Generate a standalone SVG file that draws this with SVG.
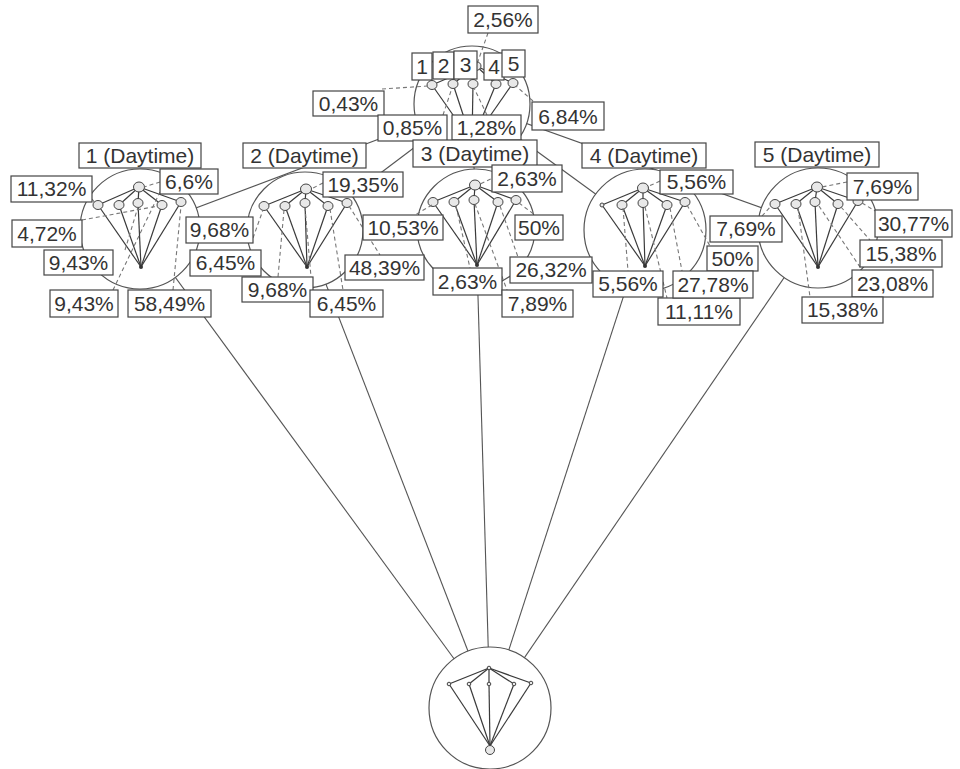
<svg xmlns="http://www.w3.org/2000/svg" width="960" height="769" viewBox="0 0 960 769">
  <style>
    .edge { stroke: #555; stroke-width: 1.1; fill: none; }
    .ring { fill: #fff; stroke: #555; stroke-width: 1.2; }
    .arm { stroke: #3a3a3a; stroke-width: 1.2; fill: none; }
    .dot { stroke: #444; stroke-width: 1; fill: #e8e8e8; }
    .pin { fill: #333; }
    .lead { stroke: #777; stroke-width: 1.1; stroke-dasharray: 4 3; fill: none; }
    .box { fill: #fff; stroke: #444; stroke-width: 1.2; }
    .lbl { font-family: "Liberation Sans", Arial, sans-serif; font-size: 21px; fill: #333; text-anchor: middle; }
  </style>
  <rect width="960" height="769" fill="#fff"/>

  <!-- links from the hub and the root to every Daytime node (centre to centre, hidden under the rings) -->
  <g id="connectors">
    <line class="edge" x1="472" y1="104" x2="140" y2="229"/>
    <line class="edge" x1="472" y1="104" x2="305" y2="230"/>
    <line class="edge" x1="472" y1="104" x2="476" y2="228"/>
    <line class="edge" x1="472" y1="104" x2="645" y2="230"/>
    <line class="edge" x1="472" y1="104" x2="818" y2="228"/>
    <line class="edge" x1="490" y1="708" x2="140" y2="229"/>
    <line class="edge" x1="490" y1="708" x2="305" y2="230"/>
    <line class="edge" x1="490" y1="708" x2="476" y2="228"/>
    <line class="edge" x1="490" y1="708" x2="645" y2="230"/>
    <line class="edge" x1="490" y1="708" x2="818" y2="228"/>
  </g>

  <!-- hub node -->
  <g id="node-hub">
    <circle class="ring" cx="472" cy="104" r="58"/>
    <g class="arm">
      <line x1="476" y1="66" x2="432" y2="85"/><line x1="476" y1="66" x2="453" y2="84"/>
      <line x1="476" y1="66" x2="473" y2="84"/><line x1="476" y1="66" x2="496" y2="84"/>
      <line x1="476" y1="66" x2="513" y2="83"/>
      <line x1="432" y1="85" x2="472" y2="142"/><line x1="453" y1="84" x2="472" y2="142"/>
      <line x1="473" y1="84" x2="472" y2="142"/><line x1="496" y1="84" x2="472" y2="142"/>
      <line x1="513" y1="83" x2="472" y2="142"/>
    </g>
    <ellipse class="dot" cx="476" cy="66" rx="5" ry="4.5"/>
    <ellipse class="dot" cx="432" cy="85" rx="5" ry="4.5"/>
    <ellipse class="dot" cx="453" cy="84" rx="5" ry="4.5"/>
    <ellipse class="dot" cx="473" cy="84" rx="5" ry="4.5"/>
    <ellipse class="dot" cx="496" cy="84" rx="5" ry="4.5"/>
    <ellipse class="dot" cx="513" cy="83" rx="5" ry="4.5" fill="#6a6a6a"/>
  </g>

  <!-- Daytime node 1 -->
  <g id="node-1">
    <circle class="ring" cx="140" cy="229" r="60"/>
    <g class="arm">
      <line x1="139" y1="187" x2="98" y2="205"/><line x1="139" y1="187" x2="119" y2="205"/>
      <line x1="139" y1="187" x2="138" y2="203"/><line x1="139" y1="187" x2="162" y2="205"/>
      <line x1="139" y1="187" x2="181" y2="202"/>
      <line x1="98" y1="205" x2="141" y2="267"/><line x1="119" y1="205" x2="141" y2="267"/>
      <line x1="138" y1="203" x2="141" y2="267"/><line x1="162" y1="205" x2="141" y2="267"/>
      <line x1="181" y1="202" x2="141" y2="267"/>
    </g>
    <ellipse class="dot" cx="139" cy="187" rx="5.5" ry="5" fill="#777"/>
    <ellipse class="dot" cx="98" cy="205" rx="5" ry="4.5"/>
    <ellipse class="dot" cx="119" cy="205" rx="5" ry="4.5"/>
    <ellipse class="dot" cx="138" cy="203" rx="5" ry="4.5"/>
    <ellipse class="dot" cx="162" cy="205" rx="5" ry="4.5"/>
    <ellipse class="dot" cx="181" cy="202" rx="5" ry="4.5" fill="#9a9a9a"/>
    <circle class="pin" cx="141" cy="267" r="2"/>
  </g>

  <!-- Daytime node 2 -->
  <g id="node-2">
    <circle class="ring" cx="305" cy="230" r="58"/>
    <g class="arm">
      <line x1="306" y1="189" x2="264" y2="206"/><line x1="306" y1="189" x2="285" y2="206"/>
      <line x1="306" y1="189" x2="305" y2="203"/><line x1="306" y1="189" x2="328" y2="206"/>
      <line x1="306" y1="189" x2="347" y2="203"/>
      <line x1="264" y1="206" x2="307" y2="267"/><line x1="285" y1="206" x2="307" y2="267"/>
      <line x1="305" y1="203" x2="307" y2="267"/><line x1="328" y1="206" x2="307" y2="267"/>
      <line x1="347" y1="203" x2="307" y2="267"/>
    </g>
    <ellipse class="dot" cx="306" cy="189" rx="5.5" ry="5" fill="#c8c8c8"/>
    <ellipse class="dot" cx="264" cy="206" rx="5" ry="4.5"/>
    <ellipse class="dot" cx="285" cy="206" rx="5" ry="4.5"/>
    <ellipse class="dot" cx="305" cy="203" rx="5" ry="4.5"/>
    <ellipse class="dot" cx="328" cy="206" rx="5" ry="4.5"/>
    <ellipse class="dot" cx="347" cy="203" rx="5" ry="4.5" fill="#bdbdbd"/>
    <circle class="pin" cx="307" cy="267" r="2"/>
  </g>

  <!-- Daytime node 3 -->
  <g id="node-3">
    <circle class="ring" cx="476" cy="228" r="59"/>
    <g class="arm">
      <line x1="475" y1="185" x2="433" y2="202"/><line x1="475" y1="185" x2="454" y2="202"/>
      <line x1="475" y1="185" x2="474" y2="200"/><line x1="475" y1="185" x2="498" y2="202"/>
      <line x1="475" y1="185" x2="516" y2="200"/>
      <line x1="433" y1="202" x2="477" y2="265"/><line x1="454" y1="202" x2="477" y2="265"/>
      <line x1="474" y1="200" x2="477" y2="265"/><line x1="498" y1="202" x2="477" y2="265"/>
      <line x1="516" y1="200" x2="477" y2="265"/>
    </g>
    <ellipse class="dot" cx="475" cy="185" rx="5.5" ry="5" fill="#b0b0b0"/>
    <ellipse class="dot" cx="433" cy="202" rx="5" ry="4.5"/>
    <ellipse class="dot" cx="454" cy="202" rx="5" ry="4.5"/>
    <ellipse class="dot" cx="474" cy="200" rx="5" ry="4.5"/>
    <ellipse class="dot" cx="498" cy="202" rx="5" ry="4.5"/>
    <ellipse class="dot" cx="516" cy="200" rx="5" ry="4.5" fill="#bdbdbd"/>
    <circle class="pin" cx="477" cy="265" r="2"/>
  </g>

  <!-- Daytime node 4 -->
  <g id="node-4">
    <circle class="ring" cx="645" cy="230" r="61"/>
    <g class="arm">
      <line x1="643" y1="188" x2="602" y2="205"/><line x1="643" y1="188" x2="622" y2="205"/>
      <line x1="643" y1="188" x2="643" y2="203"/><line x1="643" y1="188" x2="667" y2="205"/>
      <line x1="643" y1="188" x2="685" y2="202"/>
      <line x1="602" y1="205" x2="645" y2="266"/><line x1="622" y1="205" x2="645" y2="266"/>
      <line x1="643" y1="203" x2="645" y2="266"/><line x1="667" y1="205" x2="645" y2="266"/>
      <line x1="685" y1="202" x2="645" y2="266"/>
    </g>
    <ellipse class="dot" cx="643" cy="188" rx="5.5" ry="5" fill="#d8d8d8"/>
    <circle class="dot" cx="602" cy="205" r="2"/>
    <ellipse class="dot" cx="622" cy="205" rx="5" ry="4.5"/>
    <ellipse class="dot" cx="643" cy="203" rx="5" ry="4.5"/>
    <ellipse class="dot" cx="667" cy="205" rx="5" ry="4.5"/>
    <ellipse class="dot" cx="685" cy="202" rx="5" ry="4.5"/>
    <circle class="pin" cx="645" cy="266" r="2"/>
  </g>

  <!-- Daytime node 5 -->
  <g id="node-5">
    <circle class="ring" cx="818" cy="228" r="60"/>
    <g class="arm">
      <line x1="817" y1="187" x2="775" y2="204"/><line x1="817" y1="187" x2="796" y2="204"/>
      <line x1="817" y1="187" x2="815" y2="202"/><line x1="817" y1="187" x2="838" y2="204"/>
      <line x1="817" y1="187" x2="858" y2="201"/>
      <line x1="775" y1="204" x2="818" y2="267"/><line x1="796" y1="204" x2="818" y2="267"/>
      <line x1="815" y1="202" x2="818" y2="267"/><line x1="838" y1="204" x2="818" y2="267"/>
      <line x1="858" y1="201" x2="818" y2="267"/>
    </g>
    <ellipse class="dot" cx="817" cy="187" rx="5.5" ry="5"/>
    <ellipse class="dot" cx="775" cy="204" rx="5" ry="4.5"/>
    <ellipse class="dot" cx="796" cy="204" rx="5" ry="4.5"/>
    <ellipse class="dot" cx="815" cy="202" rx="5" ry="4.5"/>
    <ellipse class="dot" cx="838" cy="204" rx="5" ry="4.5"/>
    <ellipse class="dot" cx="858" cy="201" rx="5" ry="4.5"/>
    <circle class="pin" cx="818" cy="267" r="2"/>
  </g>

  <!-- root node -->
  <g id="node-root">
    <circle class="ring" cx="490" cy="708" r="61"/>
    <g class="arm">
      <line x1="489" y1="668" x2="449" y2="684"/><line x1="489" y1="668" x2="469" y2="684"/>
      <line x1="489" y1="668" x2="489" y2="684"/><line x1="489" y1="668" x2="514" y2="684"/>
      <line x1="489" y1="668" x2="531" y2="683"/>
      <line x1="449" y1="684" x2="490" y2="746"/><line x1="469" y1="684" x2="490" y2="746"/>
      <line x1="489" y1="684" x2="490" y2="746"/><line x1="514" y1="684" x2="490" y2="746"/>
      <line x1="531" y1="683" x2="490" y2="746"/>
    </g>
    <circle class="dot" cx="489" cy="668" r="1.8" fill="#fff"/>
    <circle class="dot" cx="449" cy="684" r="1.8" fill="#fff"/>
    <circle class="dot" cx="469" cy="684" r="1.8" fill="#fff"/>
    <circle class="dot" cx="489" cy="684" r="1.8" fill="#fff"/>
    <circle class="dot" cx="514" cy="684" r="1.8" fill="#fff"/>
    <circle class="dot" cx="531" cy="683" r="1.8" fill="#fff"/>
    <circle class="dot" cx="490" cy="750" r="4.5" fill="#fff"/>
  </g>

  <!-- hub labels -->
  <g id="labels-hub">
    <line class="lead" x1="488" y1="33" x2="477" y2="64"/>
    <line class="lead" x1="382" y1="89" x2="428" y2="86"/>
    <line class="lead" x1="443" y1="115" x2="452" y2="88"/>
    <line class="lead" x1="487" y1="115" x2="474" y2="88"/>
    <line class="lead" x1="533" y1="101" x2="516" y2="86"/>
    <rect class="box" x="468" y="6" width="70" height="27"/><text class="lbl" x="503" y="27">2,56%</text>
    <rect class="box" x="412" y="53" width="20" height="27"/><text class="lbl" x="422" y="74">1</text>
    <rect class="box" x="433" y="52" width="21" height="27"/><text class="lbl" x="443.5" y="73">2</text>
    <rect class="box" x="454" y="51" width="23" height="28"/><text class="lbl" x="465.5" y="72">3</text>
    <rect class="box" x="484" y="53" width="20" height="27"/><text class="lbl" x="494" y="74">4</text>
    <rect class="box" x="502" y="50" width="23" height="27"/><text class="lbl" x="513.5" y="71">5</text>
    <rect class="box" x="313" y="91" width="71" height="25"/><text class="lbl" x="348.5" y="111">0,43%</text>
    <rect class="box" x="378" y="115" width="69" height="26"/><text class="lbl" x="412.5" y="135">0,85%</text>
    <rect class="box" x="452" y="115" width="69" height="25"/><text class="lbl" x="486.5" y="135">1,28%</text>
    <rect class="box" x="532" y="102" width="72" height="28"/><text class="lbl" x="568" y="124">6,84%</text>
  </g>

  <!-- node 1 labels -->
  <g id="labels-1">
    <line class="lead" x1="160" y1="182" x2="144" y2="187"/>
    <line class="lead" x1="92" y1="199" x2="95" y2="203"/>
    <line class="lead" x1="82" y1="220" x2="158" y2="206"/>
    <line class="lead" x1="125" y1="250" x2="138" y2="207"/>
    <line class="lead" x1="113" y1="290" x2="160" y2="192"/>
    <line class="lead" x1="173" y1="290" x2="181" y2="206"/>
    <rect class="box" x="79" y="143" width="122" height="25"/><text class="lbl" x="140" y="163">1 (Daytime)</text>
    <rect class="box" x="11" y="176" width="81" height="26"/><text class="lbl" x="51.5" y="196">11,32%</text>
    <rect class="box" x="160" y="169" width="58" height="25"/><text class="lbl" x="189" y="189">6,6%</text>
    <rect class="box" x="12" y="220" width="70" height="27"/><text class="lbl" x="47" y="241">4,72%</text>
    <rect class="box" x="44" y="250" width="69" height="25"/><text class="lbl" x="78.5" y="270">9,43%</text>
    <rect class="box" x="50" y="290" width="68" height="27"/><text class="lbl" x="84" y="311">9,43%</text>
    <rect class="box" x="128" y="290" width="83" height="27"/><text class="lbl" x="169.5" y="311">58,49%</text>
  </g>

  <!-- node 2 labels -->
  <g id="labels-2">
    <line class="lead" x1="323" y1="183" x2="311" y2="189"/>
    <line class="lead" x1="253" y1="238" x2="263" y2="210"/>
    <line class="lead" x1="284" y1="210" x2="278" y2="277"/>
    <line class="lead" x1="305" y1="207" x2="311" y2="277"/>
    <line class="lead" x1="330" y1="209" x2="343" y2="290"/>
    <line class="lead" x1="349" y1="206" x2="380" y2="255"/>
    <rect class="box" x="243" y="143" width="123" height="25"/><text class="lbl" x="304.5" y="163">2 (Daytime)</text>
    <rect class="box" x="323" y="172" width="80" height="25"/><text class="lbl" x="363" y="192">19,35%</text>
    <rect class="box" x="186" y="217" width="67" height="26"/><text class="lbl" x="219.5" y="237">9,68%</text>
    <rect class="box" x="190" y="250" width="71" height="26"/><text class="lbl" x="225.5" y="270">6,45%</text>
    <rect class="box" x="242" y="277" width="71" height="25"/><text class="lbl" x="277.5" y="297">9,68%</text>
    <rect class="box" x="310" y="290" width="73" height="27"/><text class="lbl" x="346.5" y="311">6,45%</text>
    <rect class="box" x="345" y="255" width="79" height="25"/><text class="lbl" x="384.5" y="275">48,39%</text>
  </g>

  <!-- node 3 labels -->
  <g id="labels-3">
    <line class="lead" x1="497" y1="176" x2="480" y2="184"/>
    <line class="lead" x1="432" y1="205" x2="415" y2="215"/>
    <line class="lead" x1="456" y1="206" x2="470" y2="268"/>
    <line class="lead" x1="475" y1="204" x2="507" y2="290"/>
    <line class="lead" x1="519" y1="203" x2="535" y2="215"/>
    <line class="lead" x1="500" y1="206" x2="518" y2="257"/>
    <rect class="box" x="413" y="140" width="124" height="27"/><text class="lbl" x="475" y="161">3 (Daytime)</text>
    <rect class="box" x="492" y="165" width="70" height="27"/><text class="lbl" x="527" y="186">2,63%</text>
    <rect class="box" x="363" y="215" width="80" height="25"/><text class="lbl" x="403" y="235">10,53%</text>
    <rect class="box" x="515" y="215" width="48" height="25"/><text class="lbl" x="539" y="235">50%</text>
    <rect class="box" x="433" y="268" width="69" height="27"/><text class="lbl" x="467.5" y="289">2,63%</text>
    <rect class="box" x="502" y="290" width="71" height="27"/><text class="lbl" x="537.5" y="311">7,89%</text>
    <rect class="box" x="510" y="257" width="82" height="26"/><text class="lbl" x="551" y="277">26,32%</text>
  </g>

  <!-- node 4 labels -->
  <g id="labels-4">
    <line class="lead" x1="660" y1="181" x2="647" y2="187"/>
    <line class="lead" x1="687" y1="205" x2="710" y2="246"/>
    <line class="lead" x1="670" y1="208" x2="682" y2="271"/>
    <line class="lead" x1="645" y1="207" x2="667" y2="298"/>
    <line class="lead" x1="623" y1="208" x2="628" y2="271"/>
    <rect class="box" x="582" y="143" width="124" height="25"/><text class="lbl" x="644" y="163">4 (Daytime)</text>
    <rect class="box" x="660" y="170" width="73" height="24"/><text class="lbl" x="696.5" y="189">5,56%</text>
    <rect class="box" x="707" y="246" width="51" height="25"/><text class="lbl" x="732.5" y="266">50%</text>
    <rect class="box" x="593" y="271" width="70" height="26"/><text class="lbl" x="628" y="291">5,56%</text>
    <rect class="box" x="658" y="298" width="82" height="27"/><text class="lbl" x="699" y="319">11,11%</text>
    <rect class="box" x="673" y="271" width="80" height="27"/><text class="lbl" x="713" y="292">27,78%</text>
  </g>

  <!-- node 5 labels -->
  <g id="labels-5">
    <line class="lead" x1="847" y1="182" x2="822" y2="187"/>
    <line class="lead" x1="762" y1="216" x2="771" y2="206"/>
    <line class="lead" x1="862" y1="203" x2="877" y2="212"/>
    <line class="lead" x1="841" y1="207" x2="870" y2="240"/>
    <line class="lead" x1="819" y1="206" x2="862" y2="270"/>
    <line class="lead" x1="798" y1="208" x2="810" y2="297"/>
    <rect class="box" x="755" y="142" width="124" height="25"/><text class="lbl" x="817" y="162">5 (Daytime)</text>
    <rect class="box" x="847" y="173" width="71" height="27"/><text class="lbl" x="882.5" y="194">7,69%</text>
    <rect class="box" x="710" y="216" width="72" height="26"/><text class="lbl" x="746" y="236">7,69%</text>
    <rect class="box" x="875" y="210" width="77" height="27"/><text class="lbl" x="913.5" y="231">30,77%</text>
    <rect class="box" x="860" y="240" width="82" height="27"/><text class="lbl" x="901" y="261">15,38%</text>
    <rect class="box" x="852" y="270" width="81" height="27"/><text class="lbl" x="892.5" y="291">23,08%</text>
    <rect class="box" x="802" y="297" width="81" height="26"/><text class="lbl" x="842.5" y="317">15,38%</text>
  </g>
</svg>
